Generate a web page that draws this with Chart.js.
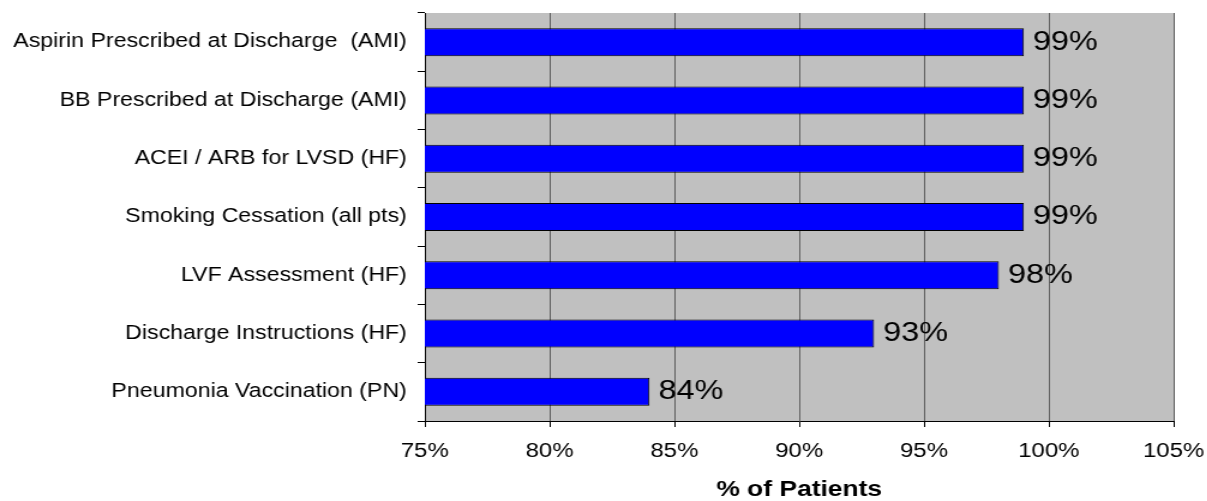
<!DOCTYPE html>
<html>
<head>
  <title>% of Patients</title>
  <style>
    body { margin: 0; background: #fff; overflow: hidden; }
    /* the original picture is stretched sideways, so draw narrow and scale */
    #wrap { width: 1006px; height: 501px; transform: scaleX(1.2); transform-origin: 0 0; }
  </style>
  <script src="https://cdn.jsdelivr.net/npm/chart.js"></script>
</head>
<body>
  <div id="wrap"><canvas id="chart"></canvas></div>
  <script>
    const categories = [
      'Aspirin Prescribed at Discharge  (AMI)',
      'BB Prescribed at Discharge (AMI)',
      'ACEI / ARB for LVSD (HF)',
      'Smoking Cessation (all pts)',
      'LVF Assessment (HF)',
      'Discharge Instructions (HF)',
      'Pneumonia Vaccination (PN)'
    ];
    const values = [99, 99, 99, 99, 98, 93, 84];
    const xMin = 75, xMax = 105, xStep = 5;
    const axisTitle = '% of Patients';

    Chart.defaults.font.family = '"Liberation Sans", Arial, sans-serif';
    Chart.defaults.color = '#000';

    // gray plot area like the Excel original
    const plotBg = {
      id: 'plotBg',
      beforeDraw(chart) {
        const {ctx, chartArea: a} = chart;
        ctx.save();
        ctx.fillStyle = '#C0C0C0';
        ctx.fillRect(a.left, a.top, a.right - a.left, a.bottom - a.top);
        ctx.restore();
      }
    };

    // value text just right of each bar
    const barValues = {
      id: 'barValues',
      afterDatasetsDraw(chart) {
        const ctx = chart.ctx;
        const meta = chart.getDatasetMeta(0);
        ctx.save();
        ctx.font = '27px "Liberation Sans", Arial, sans-serif';
        ctx.fillStyle = '#000';
        ctx.textAlign = 'left';
        ctx.textBaseline = 'middle';
        meta.data.forEach((bar, i) => {
          ctx.fillText(values[i] + '%', bar.x + 7.5, bar.y);
        });
        ctx.restore();
      }
    };

    // keep the plot box where the original has it
    function noPad(s) {
      s.paddingLeft = 0; s.paddingRight = 0;
      s.paddingTop = 0; s.paddingBottom = 0;
    }

    new Chart(document.getElementById('chart'), {
      type: 'bar',
      data: {
        labels: categories,
        datasets: [{
          data: values,
          backgroundColor: '#0000FF',
          borderColor: '#000',
          borderWidth: 1,
          borderSkipped: false,
          barPercentage: 0.48,
          categoryPercentage: 1
        }]
      },
      options: {
        indexAxis: 'y',
        responsive: true,
        maintainAspectRatio: false,
        animation: false,
        layout: { padding: { top: 13, right: 28, left: 0, bottom: 0 } },
        plugins: { legend: { display: false }, tooltip: { enabled: false } },
        scales: {
          x: {
            min: xMin,
            max: xMax,
            afterFit(s) { s.height = 80; noPad(s); },
            ticks: {
              stepSize: xStep,
              padding: 12,
              font: { size: 20 },
              callback: v => v + '%'
            },
            grid: { color: '#5f5f5f', tickColor: '#000', tickLength: 6, lineWidth: 1 },
            border: { color: '#000', width: 1 },
            title: {
              display: true,
              text: axisTitle,
              font: { size: 22, weight: 'bold', lineHeight: 1 },
              padding: { top: 0, bottom: 0 }
            }
          },
          y: {
            afterFit(s) { s.width = 354; noPad(s); },
            ticks: { padding: 9, font: { size: 19.3 } },
            grid: { drawOnChartArea: false, tickColor: '#000', tickLength: 6 },
            border: { color: '#000', width: 1 }
          }
        }
      },
      plugins: [plotBg, barValues]
    });
  </script>
</body>
</html>
